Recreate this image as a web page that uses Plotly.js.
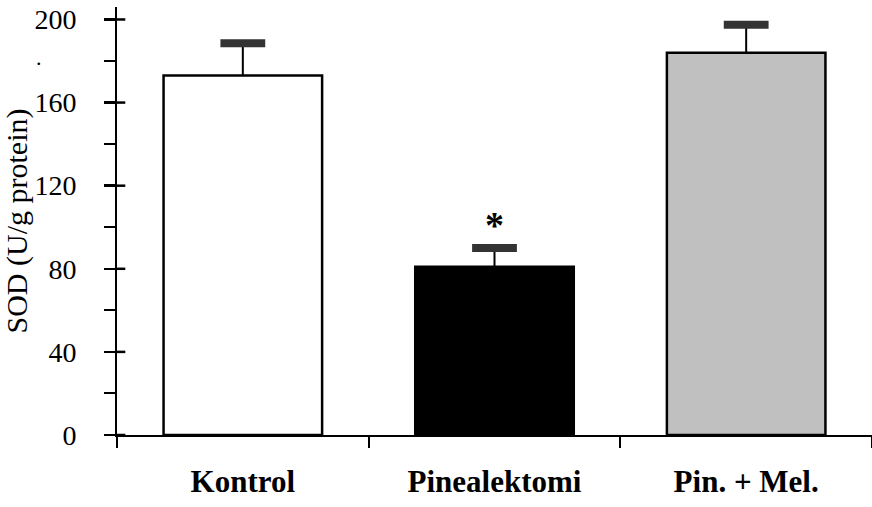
<!DOCTYPE html>
<html>
<head>
<meta charset="utf-8">
<script src="https://cdn.plot.ly/plotly-3.0.1.min.js"></script>
<style>html,body{margin:0;padding:0;background:#fff;}#chart{width:872px;height:507px;}</style>
</head>
<body>
<div id="chart"></div>
<script>
const categories = ["Kontrol", "Pinealektomi", "Pin. + Mel."];
const sodValues = [173, 81, 184];
const sodErrors = [15.5, 9, 13.5];
const barColors = ["#ffffff", "#000000", "#c0c0c0"];
const yTickVals = [0, 40, 80, 120, 160, 200];
const significance = ["", "*", ""];

const font = "'Liberation Serif', 'Times New Roman', serif";
const capTops = sodValues.map((v, i) => v + sodErrors[i]);
const yRange = [0, 206];

const bars = {
  type: "bar",
  x: categories,
  y: sodValues,
  width: 0.63,
  marker: {color: barColors, line: {color: "#000", width: 2.5}},
  error_y: {type: "data", array: sodErrors, arrayminus: sodErrors.map(() => 0), symmetric: false,
            color: "#000", thickness: 2, width: 0},
  hoverinfo: "skip"
};
const caps = {
  type: "scatter",
  mode: "markers",
  x: categories,
  y: capTops,
  marker: {symbol: "line-ew", size: 32, color: "#333", line: {color: "#333", width: 8}},
  hoverinfo: "skip"
};

const annotations = categories.map((c, i) => ({
  x: c, y: capTops[i], xref: "x", yref: "y", text: significance[i],
  showarrow: false, yanchor: "bottom", yshift: 0,
  font: {family: font, size: 38, color: "#000", weight: "bold"}
})).filter(a => a.text);
annotations.push({xref: "paper", yref: "paper", x: -0.11, y: 0.915, text: ".", showarrow: false,
  font: {family: font, size: 22, color: "#000"}});

// inner halves of the crossing major ticks on the y axis (about 8 px into the plot)
const innerTicks = yTickVals.map(v => ({
  type: "line", layer: "above", xref: "x domain", x0: 0, x1: 0.011,
  yref: "y", y0: v, y1: v, line: {color: "#000", width: 2.5}
}));

const layout = {
  width: 872, height: 507,
  margin: {l: 117, r: 0, t: 7, b: 72},
  paper_bgcolor: "#fff", plot_bgcolor: "#fff",
  showlegend: false,
  font: {family: font, color: "#000"},
  xaxis: {
    type: "category", categoryorder: "array", categoryarray: categories,
    range: [-0.5, 2.5], tickson: "boundaries",
    ticks: "outside", ticklen: 11, tickwidth: 2, tickcolor: "#000",
    showline: true, linewidth: 2, linecolor: "#000",
    showgrid: false, zeroline: false,
    tickfont: {family: font, size: 31, color: "#000", weight: "bold"},
    ticklabelstandoff: 18
  },
  yaxis: {
    range: yRange, tickvals: yTickVals,
    ticks: "outside", ticklen: 11, tickwidth: 2.5, tickcolor: "#000",
    minor: {dtick: 20, tick0: 0, ticks: "outside", ticklen: 11, tickwidth: 2, tickcolor: "#000", showgrid: false},
    showline: true, linewidth: 2, linecolor: "#000",
    showgrid: false, zeroline: false,
    tickfont: {family: font, size: 28, color: "#000"},
    ticklabelstandoff: 22,
    title: {text: "SOD (U/g protein)", font: {family: font, size: 30, color: "#000"}, standoff: 4}
  },
  shapes: innerTicks,
  annotations: annotations
};

Plotly.newPlot("chart", [bars, caps], layout, {staticPlot: true, displayModeBar: false});
</script>
</body>
</html>
